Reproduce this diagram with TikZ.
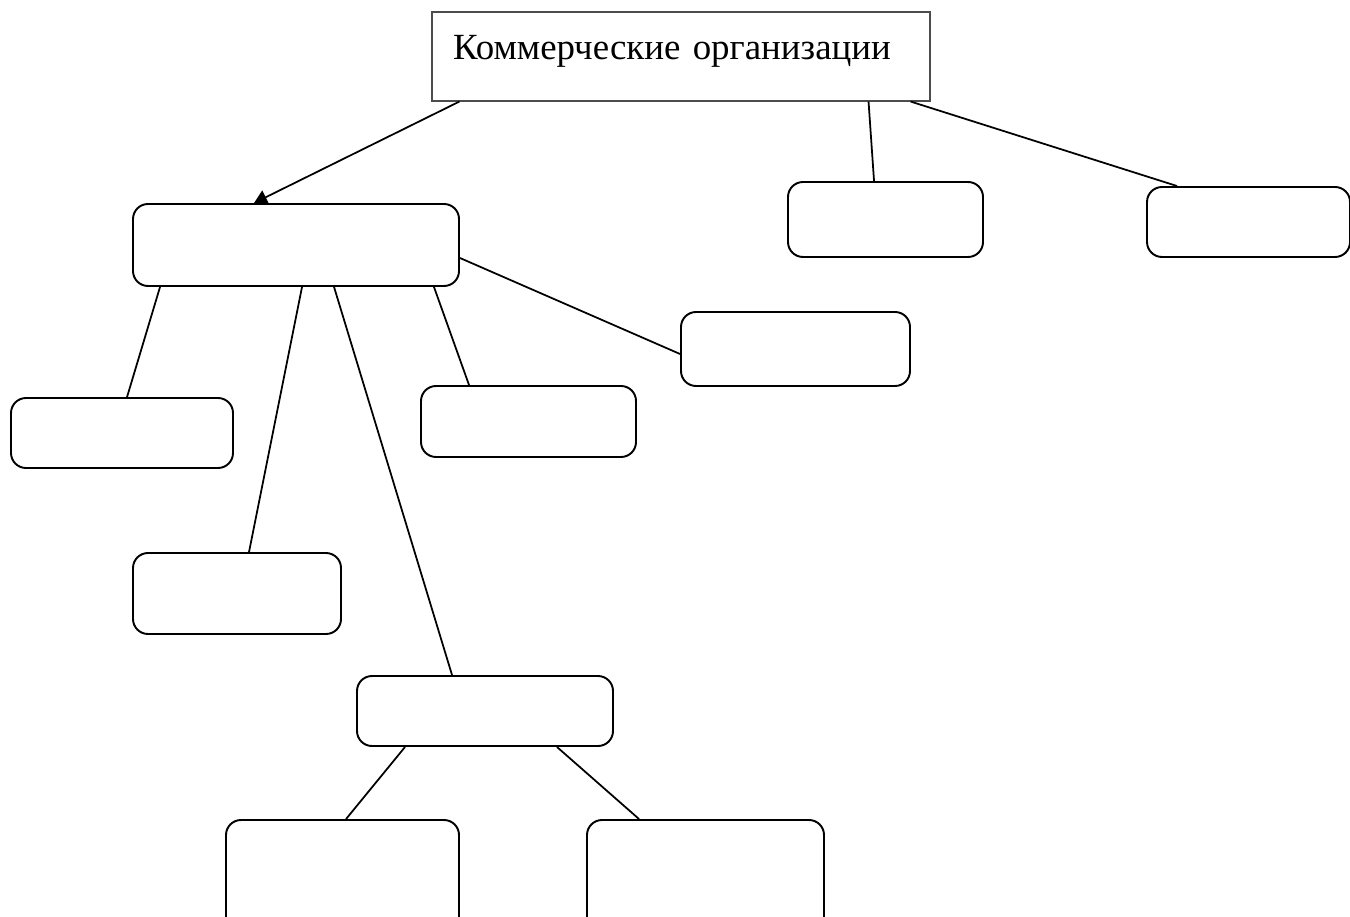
\documentclass[tikz,border=0pt]{standalone}
\usepackage{fontspec}
\setmainfont{Liberation Serif}
\tikzstyle{head}=[rectangle,draw=black!70,line width=0.6pt,inner sep=0pt,
text width=9.96cm,align=left,text height=0.96cm,text depth=0.82cm,font=\fontsize{21}{25}\selectfont]
\tikzstyle{block}=[rectangle,rounded corners=0.3cm,draw=black,line width=1.1pt,inner sep=0pt]
\tikzstyle{link}=[line width=1pt]
\usetikzlibrary{arrows.meta}

\begin{document}
\begin{tikzpicture}[>={Triangle[length=0.26cm,width=0.3cm]}]
            \useasboundingbox (0,0) rectangle (27,-18.34);
            \clip (0,0) rectangle (27,-18.34);

            % TOP PART

            \node[head] (org) at (13.62,-1.13) {\hspace*{0.42cm}Коммерческие организации};

            \node[block,minimum width=6.52cm,minimum height=1.64cm] (b1) at (5.92,-4.90) {};
            \node[block,minimum width=3.90cm,minimum height=1.50cm] (b2) at (17.71,-4.39) {};
            \node[block,minimum width=4.06cm,minimum height=1.40cm] (b3) at (24.97,-4.44) {};

            \path[link,->] ([xshift=0.56cm]org.south west) edge node {} ([xshift=2.44cm]b1.north west);
            \path[link] ([xshift=-1.24cm]org.south east) edge node {} ([xshift=1.74cm]b2.north west);
            \path[link] ([xshift=-0.40cm]org.south east) edge node {} ([xshift=0.62cm]b3.north west);

            % SECOND LEVEL

            \node[block,minimum width=4.58cm,minimum height=1.48cm] (b4) at (15.91,-6.98) {};
            \node[block,minimum width=4.30cm,minimum height=1.42cm] (b5) at (10.57,-8.43) {};
            \node[block,minimum width=4.44cm,minimum height=1.40cm] (b6) at (2.44,-8.66) {};
            \node[block,minimum width=4.16cm,minimum height=1.62cm] (b7) at (4.74,-11.87) {};
            \node[block,minimum width=5.12cm,minimum height=1.40cm] (b8) at (9.70,-14.22) {};

            \path[link] ([yshift=-0.26cm]b1.east) edge node {} ([yshift=-0.10cm]b4.west);
            \path[link] ([xshift=-0.52cm]b1.south east) edge node {} ([xshift=0.98cm]b5.north west);
            \path[link] ([xshift=0.56cm]b1.south west) edge node {} ([xshift=2.34cm]b6.north west);
            \path[link] ([xshift=3.40cm]b1.south west) edge node {} ([xshift=2.34cm]b7.north west);
            \path[link] ([xshift=4.04cm]b1.south west) edge node {} ([xshift=1.92cm]b8.north west);

            % BOTTOM PART

            \node[block,minimum width=4.66cm,minimum height=2.40cm] (b9) at (6.85,-17.60) {};
            \node[block,minimum width=4.74cm,minimum height=2.40cm] (b10) at (14.11,-17.60) {};

            \path[link] ([xshift=0.98cm]b8.south west) edge node {} ([xshift=2.42cm]b9.north west);
            \path[link] ([xshift=-1.14cm]b8.south east) edge node {} ([xshift=1.06cm]b10.north west);

        \end{tikzpicture}
\end{document}
